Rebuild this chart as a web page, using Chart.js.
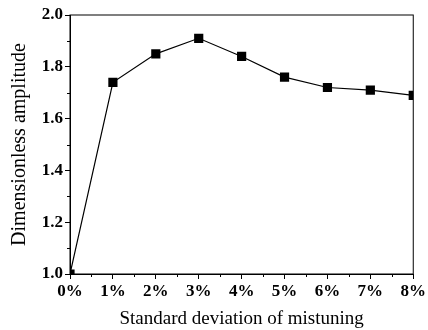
<!DOCTYPE html>
<html>
<head>
<meta charset="utf-8">
<script src="https://cdn.jsdelivr.net/npm/chart.js@4"></script>
<style>
html,body{margin:0;padding:0;background:#fff;}
#wrap{width:428px;height:330px;position:relative;}
</style>
</head>
<body>
<div id="wrap"><canvas id="c" width="428" height="330"></canvas></div>
<script>
const xValues = [0, 1, 2, 3, 4, 5, 6, 7, 8];
const amplitude = [1.00, 1.74, 1.85, 1.91, 1.84, 1.76, 1.72, 1.71, 1.69];
const xTitle = 'Standard deviation of mistuning';
const yTitle = 'Dimensionless amplitude';

const frameAndMinor = {
  id: 'frameAndMinor',
  afterDraw(chart) {
    const {ctx, chartArea: a, scales} = chart;
    ctx.save();
    ctx.strokeStyle = '#000';
    ctx.lineWidth = 1;
    ctx.strokeRect(a.left, a.top, a.right - a.left, a.bottom - a.top);
    for (let v = 0.5; v < 8; v += 1) {
      const x = Math.round(scales.x.getPixelForValue(v)) + 0.5;
      ctx.beginPath(); ctx.moveTo(x, a.bottom); ctx.lineTo(x, a.bottom + 3); ctx.stroke();
    }
    for (let v = 1.1; v < 2.0; v += 0.2) {
      const y = Math.round(scales.y.getPixelForValue(v)) + 0.5;
      ctx.beginPath(); ctx.moveTo(a.left, y); ctx.lineTo(a.left - 3, y); ctx.stroke();
    }
    ctx.restore();
  }
};

new Chart(document.getElementById('c'), {
  type: 'line',
  data: {
    datasets: [{
      data: xValues.map((x, i) => ({x: x, y: amplitude[i]})),
      borderColor: '#000',
      backgroundColor: '#000',
      borderWidth: 1.2,
      pointStyle: 'rect',
      pointRadius: 6.5,
      pointHoverRadius: 6.5,
      pointBorderWidth: 0,
      tension: 0,
      clip: 0
    }]
  },
  options: {
    responsive: false,
    animation: false,
    events: [],
    plugins: { legend: {display: false}, tooltip: {enabled: false} },
    layout: { padding: {left: 0, right: 11, top: 15, bottom: 0} },
    scales: {
      x: {
        type: 'linear', min: 0, max: 8,
        afterFit(s) { s.height = 56; },
        border: {display: true, color: '#000', width: 1},
        grid: {drawOnChartArea: false, tickLength: 5, color: '#000', tickColor: '#000'},
        ticks: {
          stepSize: 1, color: '#000', padding: 2, maxRotation: 0,
          font: {family: '"Liberation Serif", "Times New Roman", serif', size: 17, weight: 'bold'},
          callback: v => v + '%'
        },
        title: {
          display: true, text: xTitle, color: '#000', padding: {top: 4, bottom: 0},
          font: {family: '"Liberation Serif", "Times New Roman", serif', size: 19}
        }
      },
      y: {
        type: 'linear', min: 1.0, max: 2.0,
        afterFit(s) { s.width = 70; },
        border: {display: true, color: '#000', width: 1},
        grid: {drawOnChartArea: false, tickLength: 5, color: '#000', tickColor: '#000'},
        ticks: {
          stepSize: 0.2, color: '#000', padding: 2,
          font: {family: '"Liberation Serif", "Times New Roman", serif', size: 17, weight: 'bold'},
          callback: v => v.toFixed(1)
        },
        title: {
          display: true, text: yTitle, color: '#000', padding: {top: 8, bottom: 2},
          font: {family: '"Liberation Serif", "Times New Roman", serif', size: 20}
        }
      }
    }
  },
  plugins: [frameAndMinor]
});
</script>
</body>
</html>
